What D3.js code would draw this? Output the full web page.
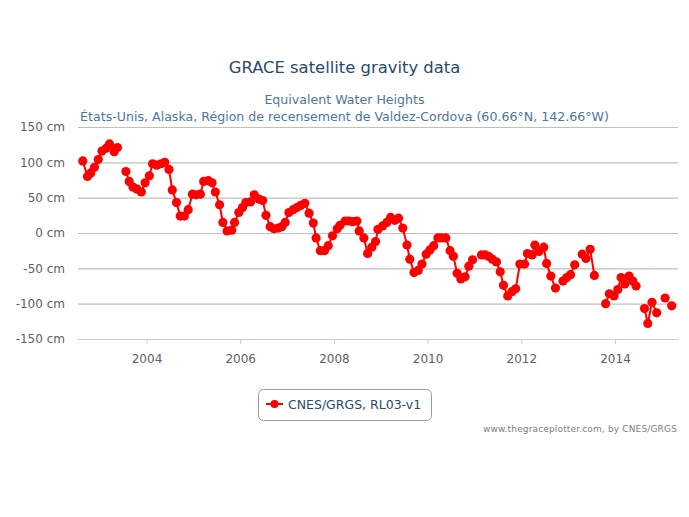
<!DOCTYPE html>
<html>
<head>
<meta charset="utf-8">
<script src="https://d3js.org/d3.v7.min.js"></script>
<style>
  html, body { margin: 0; padding: 0; background: #fff; }
  svg { display: block; font-family: "DejaVu Sans", sans-serif; }
</style>
</head>
<body>
<svg id="chart" width="689" height="517"></svg>
<script>
const titleText = "GRACE satellite gravity data";
const subtitleLines = ["Equivalent Water Heights", "États-Unis, Alaska, Région de recensement de Valdez-Cordova (60.66°N, 142.66°W)"];
const seriesName = "CNES/GRGS, RL03-v1";
const creditText = "www.thegraceplotter.com, by CNES/GRGS";
const yTicks = [150, 100, 50, 0, -50, -100, -150];
const xTicks = [2004, 2006, 2008, 2010, 2012, 2014];

// decimal year of each solution, null = missing month (breaks the line)
const years = [
  2002.64, 2002.74, 2002.81, 2002.89, 2002.97, 2003.05, 2003.14, 2003.21, 2003.31, 2003.38, null,
  2003.56, 2003.63, 2003.71, 2003.80, 2003.89, 2003.97, 2004.06, 2004.13, 2004.22, 2004.31, 2004.39, 2004.48,
  2004.55, 2004.64, 2004.72, 2004.81, 2004.89, 2004.98, 2005.06, 2005.15, 2005.22, 2005.32, 2005.40, 2005.47,
  2005.56, 2005.63, 2005.72, 2005.82, 2005.88, 2005.97, 2006.05, 2006.12, 2006.22, 2006.30, 2006.40, 2006.48,
  2006.55, 2006.64, 2006.72, 2006.81, 2006.89, 2006.96, 2007.04, 2007.13, 2007.21, 2007.29, 2007.38, 2007.47,
  2007.56, 2007.62, 2007.71, 2007.80, 2007.88, 2007.97, 2008.07, 2008.13, 2008.24, 2008.32, 2008.40, 2008.49,
  2008.54, 2008.64, 2008.72, 2008.81, 2008.89, 2008.94, 2009.04, 2009.13, 2009.21, 2009.30, 2009.38, 2009.47,
  2009.56, 2009.62, 2009.71, 2009.80, 2009.88, 2009.97, 2010.05, 2010.13, 2010.22, 2010.30, 2010.39, 2010.48,
  2010.55, 2010.63, 2010.71, 2010.80, 2010.88, 2010.96, null,
  2011.15, 2011.23, 2011.30, 2011.38, 2011.47, 2011.55, 2011.62, 2011.71, 2011.80, 2011.88, 2011.97,
  2012.07, 2012.13, 2012.23, 2012.29, 2012.38, 2012.48, 2012.54, 2012.63, 2012.73, null,
  2012.89, 2012.97, 2013.05, 2013.14, null,
  2013.30, 2013.38, 2013.47, 2013.56, null,
  2013.80, 2013.88, 2013.98, 2014.06, 2014.13, 2014.21, 2014.30, 2014.38, 2014.45, null,
  2014.63, 2014.70, 2014.79, 2014.89, null,
  2015.07, null,
  2015.21
];
const heights = [
  102, 80, 85, 93, 104, 116, 120, 126, 115, 121, null,
  87, 73, 65, 62, 58, 71, 81, 98, 96, 98, 100, 90,
  61, 43, 24, 24, 33, 55, 54, 55, 73, 74, 71, 58,
  40, 15, 3, 4, 15, 29, 36, 43, 44, 54, 48, 46,
  25, 9, 6, 7, 9, 15, 29, 33, 36, 39, 42, 28,
  14, -7, -25, -25, -18, -4, 6, 11, 17, 17, 16, 17,
  3, -7, -29, -20, -12, 5, 10, 15, 22, 18, 21, 7,
  -17, -37, -56, -53, -44, -30, -24, -18, -7, -7, -7, -25,
  -33, -57, -65, -62, -47, -38, null,
  -31, -31, -33, -37, -41, -55, -74, -89, -83, -79, -44,
  -44, -29, -31, -17, -26, -20, -43, -61, -78, null,
  -68, -63, -59, -45, null,
  -30, -36, -23, -60, null,
  -100, -86, -89, -80, -63, -72, -61, -68, -75, null,
  -107, -128, -98, -113, null,
  -92, null,
  -103
];

const svg = d3.select("#chart");
const points = years.map((y, i) => ({ year: y, value: heights[i] }));

const x = d3.scaleLinear().domain([2002.538, 2015.345]).range([78, 678]);
const y = d3.scaleLinear().domain([-150, 150]).range([339, 127]);

// titles
svg.append("text").attr("x", 344.5).attr("y", 73).attr("text-anchor", "middle")
  .attr("font-size", 16.4).attr("fill", "#274b6d").text(titleText);
svg.selectAll(".subtitle").data(subtitleLines).join("text")
  .attr("class", "subtitle")
  .attr("x", 344.5).attr("y", (d, i) => 104 + i * 17)
  .attr("text-anchor", "middle").attr("font-size", 12.6).attr("fill", "#4d759e")
  .text(d => d);

// y axis, horizontal grid only
const yAxis = svg.append("g").attr("transform", "translate(78,0)")
  .call(d3.axisLeft(y).tickValues(yTicks).tickSize(0).tickPadding(13).tickFormat(d => d + " cm"));
yAxis.select(".domain").remove();
yAxis.selectAll("text").attr("font-size", 12).attr("font-family", "DejaVu Sans").attr("fill", "#606060");
yAxis.selectAll("line").attr("x1", 0).attr("x2", 600).attr("stroke", "#c0c0c0").attr("stroke-width", 1.2);

const xAxis = svg.append("g").attr("transform", "translate(0,339)")
  .call(d3.axisBottom(x).tickValues(xTicks).tickSizeInner(5).tickSizeOuter(0).tickPadding(10).tickFormat(d3.format("d")));
xAxis.select(".domain").attr("stroke", "#c0d0e0").attr("stroke-width", 1);
xAxis.selectAll("line").attr("stroke", "#c0d0e0");
xAxis.selectAll("text").attr("font-size", 12).attr("font-family", "DejaVu Sans").attr("fill", "#606060");

// series
const line = d3.line().defined(d => d.value !== null).x(d => x(d.year)).y(d => y(d.value));
svg.append("path").datum(points).attr("d", line)
  .attr("fill", "none").attr("stroke", "#ff0000").attr("stroke-width", 2);
svg.append("g").selectAll("circle").data(points.filter(d => d.value !== null)).join("circle")
  .attr("cx", d => x(d.year)).attr("cy", d => y(d.value)).attr("r", 4.6).attr("fill", "#ff0000");

// legend
const legend = svg.append("g").attr("transform", "translate(258,389)");
legend.append("rect").attr("x", 0.5).attr("y", 0.5).attr("width", 173).attr("height", 31).attr("rx", 5)
  .attr("fill", "#fff").attr("stroke", "#999").attr("stroke-width", 1);
legend.append("line").attr("x1", 8).attr("x2", 25).attr("y1", 15).attr("y2", 15)
  .attr("stroke", "#ff0000").attr("stroke-width", 2);
legend.append("circle").attr("cx", 16.5).attr("cy", 15).attr("r", 4).attr("fill", "#ff0000");
legend.append("text").attr("x", 30).attr("y", 19.5).attr("font-size", 12.5).attr("fill", "#274b6d").text(seriesName);

svg.append("text").attr("x", 677).attr("y", 432).attr("text-anchor", "end")
  .attr("font-size", 9).attr("letter-spacing", 0.15).attr("fill", "#808080").text(creditText);
</script>
</body>
</html>
